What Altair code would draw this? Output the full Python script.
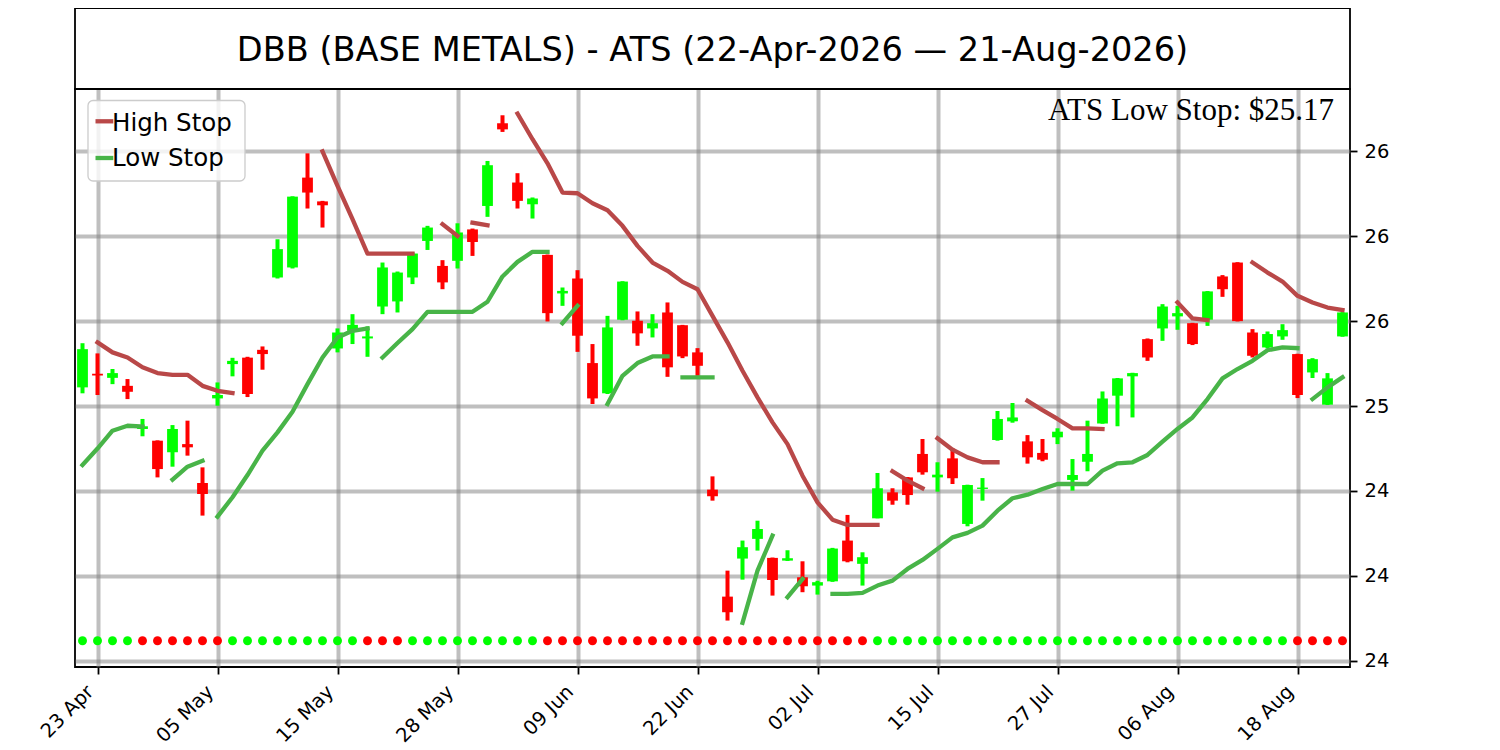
import altair as alt
import pandas as pd

TITLE = "DBB (BASE METALS) - ATS (22-Apr-2026 \u2014 21-Aug-2026)"
ATS_TEXT = "ATS Low Stop: $25.17"

# OHLC per trading day (index 0 = 22 Apr 2026 ... 84 = 21 Aug 2026)
opens = [25.110, 25.190, 25.166, 25.119, 24.865, 24.796, 24.728, 24.776, 24.547, 25.045,
         25.247, 25.285, 25.331, 25.757, 25.816, 26.345, 26.205, 25.339, 25.443, 25.398,
         25.586, 25.616, 25.757, 25.972, 25.825, 25.855, 26.040, 26.178, 26.665, 26.316,
         26.188, 25.890, 25.663, 25.751, 25.253, 25.075, 25.508, 25.502, 25.457, 25.551,
         25.476, 25.316, 24.508, 23.878, 24.102, 24.218, 24.106, 24.090, 23.992, 23.943,
         23.968, 24.208, 24.071, 24.339, 24.492, 24.580, 24.718, 24.580, 24.692, 24.306,
         24.512, 24.800, 24.910, 24.792, 24.724, 24.816, 24.565, 24.672, 24.898, 25.061,
         25.175, 25.394, 25.457, 25.528, 25.488, 25.508, 25.763, 25.845, 25.433, 25.345,
         25.410, 25.306, 25.198, 25.008, 25.410]
highs = [25.370, 25.310, 25.218, 25.159, 24.924, 24.798, 24.888, 24.914, 24.639, 25.139,
         25.284, 25.290, 25.351, 25.982, 26.235, 26.488, 26.208, 25.457, 25.541, 25.469,
         25.845, 25.792, 25.904, 26.061, 25.859, 26.076, 26.045, 26.443, 26.712, 26.371,
         26.228, 25.892, 25.698, 25.800, 25.365, 25.531, 25.735, 25.557, 25.541, 25.610,
         25.478, 25.341, 24.586, 24.031, 24.208, 24.325, 24.108, 24.151, 24.086, 23.971,
         24.165, 24.359, 24.139, 24.606, 24.516, 24.582, 24.806, 24.669, 24.751, 24.537,
         24.576, 24.971, 25.018, 24.829, 24.806, 24.869, 24.688, 24.914, 25.086, 25.165,
         25.196, 25.398, 25.600, 25.590, 25.490, 25.677, 25.771, 25.847, 25.453, 25.439,
         25.482, 25.308, 25.282, 25.194, 25.553]
lows = [25.075, 25.065, 25.129, 25.041, 24.822, 24.580, 24.643, 24.708, 24.355, 25.002,
        25.175, 25.053, 25.214, 25.751, 25.810, 26.163, 26.051, 25.316, 25.365, 25.290,
        25.541, 25.551, 25.718, 25.919, 25.688, 25.810, 25.884, 26.114, 26.614, 26.163,
        26.104, 25.498, 25.590, 25.319, 25.012, 25.071, 25.505, 25.355, 25.404, 25.172,
        25.282, 25.178, 24.443, 23.737, 23.978, 24.149, 23.884, 24.088, 23.904, 23.890,
        23.965, 24.080, 23.943, 24.339, 24.419, 24.419, 24.596, 24.496, 24.541, 24.292,
        24.443, 24.796, 24.902, 24.661, 24.675, 24.776, 24.502, 24.616, 24.896, 24.881,
        24.933, 25.266, 25.384, 25.449, 25.359, 25.472, 25.643, 25.498, 25.286, 25.339,
        25.390, 25.047, 25.165, 25.006, 25.408]
closes = [25.335, 25.180, 25.194, 25.084, 24.881, 24.629, 24.865, 24.757, 24.482, 25.065,
          25.266, 25.071, 25.306, 25.924, 26.233, 26.257, 26.182, 25.433, 25.478, 25.410,
          25.816, 25.786, 25.898, 26.051, 25.728, 26.022, 25.966, 26.418, 26.629, 26.208,
          26.222, 25.547, 25.678, 25.414, 25.045, 25.463, 25.733, 25.428, 25.488, 25.228,
          25.292, 25.237, 24.469, 23.786, 24.169, 24.276, 23.976, 24.104, 23.939, 23.963,
          24.161, 24.086, 24.110, 24.516, 24.443, 24.476, 24.610, 24.596, 24.575, 24.535,
          24.520, 24.924, 24.933, 24.698, 24.684, 24.849, 24.594, 24.718, 25.045, 25.163,
          25.194, 25.286, 25.586, 25.547, 25.365, 25.675, 25.688, 25.500, 25.296, 25.424,
          25.447, 25.065, 25.276, 25.163, 25.551]

# stop lines, as (first index, values) segments
high_stop_segments = [
    (1, [25.375, 25.316, 25.286, 25.228, 25.194, 25.184, 25.184, 25.119, 25.090, 25.076]),
    (16, [26.500, 26.296, 26.100, 25.898, 25.898, 25.898, 25.898]),
    (24, [26.071, 26.002]),
    (26, [26.080, 26.065]),
    (29, [26.722, 26.571, 26.429, 26.257, 26.253, 26.194, 26.153, 26.061, 25.943, 25.845,
          25.796, 25.731, 25.688, 25.531, 25.375, 25.208, 25.051, 24.904, 24.776, 24.590,
          24.433, 24.331, 24.300, 24.300, 24.300]),
    (54, [24.616, 24.561, 24.516]),
    (57, [24.810, 24.743, 24.698, 24.669, 24.669]),
    (63, [25.031, 24.976, 24.924, 24.869, 24.869, 24.865]),
    (73, [25.610, 25.516, 25.506]),
    (78, [25.845, 25.786, 25.733, 25.649, 25.610, 25.580, 25.565]),
]
low_stop_segments = [
    (0, [24.653, 24.750, 24.855, 24.884, 24.880]),
    (6, [24.567, 24.643, 24.678]),
    (9, [24.349, 24.463, 24.594, 24.737, 24.845, 24.967, 25.129, 25.286, 25.404, 25.443, 25.457]),
    (20, [25.286, 25.371, 25.453, 25.555, 25.555, 25.555, 25.555, 25.614, 25.763, 25.849,
          25.908, 25.908]),
    (32, [25.488, 25.590]),
    (35, [25.012, 25.178, 25.253, 25.292, 25.292]),
    (40, [25.169, 25.169, 25.169]),
    (44, [23.724, 24.031, 24.237]),
    (47, [23.875, 23.982]),
    (50, [23.894, 23.894, 23.900, 23.943, 23.972, 24.041, 24.094, 24.159, 24.227, 24.253,
          24.296, 24.384, 24.457, 24.478, 24.512, 24.541, 24.541, 24.541, 24.620, 24.663,
          24.669, 24.712, 24.790, 24.865, 24.933, 25.041, 25.163, 25.218, 25.266, 25.329,
          25.345, 25.341]),
    (82, [25.041, 25.110, 25.169]),
]
# trend dots: (state, run length)  1 = up (green), -1 = down (red)
trend_runs = [(1, 4), (-1, 6), (1, 9), (-1, 3), (1, 9), (-1, 22), (1, 28), (-1, 4)]

tick_positions = [1, 9, 17, 25, 33, 41, 49, 57, 65, 73, 81]
tick_labels = ["23 Apr", "05 May", "15 May", "28 May", "09 Jun", "22 Jun",
               "02 Jul", "15 Jul", "27 Jul", "06 Aug", "18 Aug"]
y_tick_values = [23.5, 24.0, 24.5, 25.0, 25.5, 26.0, 26.5]
y_tick_labels = ["24", "24", "24", "25", "26", "26", "26"]
legend_names = ["High Stop", "Low Stop"]

GREEN = "#00ff00"
RED = "#ff0000"
HIGH_COLOR = "#b94848"
LOW_COLOR = "#48b448"

W, H = 1275, 578
n = len(opens)

candles = pd.DataFrame({"i": list(range(n)), "o": opens, "h": highs, "l": lows, "c": closes})

rows = []
for k, (start, vals) in enumerate(high_stop_segments):
    for j, v in enumerate(vals):
        rows.append({"i": start + j, "v": v, "series": legend_names[0], "seg": f"H{k}"})
for k, (start, vals) in enumerate(low_stop_segments):
    for j, v in enumerate(vals):
        rows.append({"i": start + j, "v": v, "series": legend_names[1], "seg": f"L{k}"})
stops = pd.DataFrame(rows)

trend = []
for state, length in trend_runs:
    trend += [state] * length
dot_level = min(lows) * 0.995
dots = pd.DataFrame({"i": list(range(n)), "t": trend, "y": [dot_level] * n})

ymin = min(min(lows), dot_level)
ymax = max(highs)
pad = (ymax - ymin) * 0.05

x_expr = " : ".join(f"datum.value == {p} ? '{lab}'" for p, lab in zip(tick_positions, tick_labels)) + " : ''"
y_expr = " : ".join(f"abs(datum.value - {v}) < 0.001 ? '{lab}'" for v, lab in zip(y_tick_values, y_tick_labels)) + " : ''"

xscale = alt.Scale(domain=[-0.5, n - 0.5], nice=False, zero=False)
yscale = alt.Scale(domain=[ymin - pad, ymax + pad], nice=False, zero=False)
xaxis = alt.Axis(values=tick_positions, labelExpr=x_expr, title=None, labelAngle=315,
                 labelAlign="right", labelBaseline="top", labelPadding=8, labelOffset=-14,
                 labelOverlap=False, labelFlush=False)
yaxis = alt.Axis(values=y_tick_values, labelExpr=y_expr, title=None, orient="right",
                 labelPadding=7, labelOverlap=False, labelFlush=False)

up = alt.datum.c >= alt.datum.o
candle_color = alt.when(up).then(alt.value(GREEN)).otherwise(alt.value(RED))

wicks = alt.Chart(candles).mark_rule(strokeWidth=4).encode(
    x=alt.X("i:Q", scale=xscale, axis=xaxis),
    y=alt.Y("l:Q", scale=yscale, axis=yaxis),
    y2="h:Q",
    color=candle_color,
)
bodies = alt.Chart(candles).transform_calculate(
    x0="datum.i - 0.36", x1="datum.i + 0.36"
).mark_bar(opacity=1).encode(
    x=alt.X("x0:Q", scale=xscale, axis=xaxis),
    x2="x1:Q",
    y=alt.Y("o:Q", scale=yscale, axis=yaxis),
    y2="c:Q",
    color=candle_color,
)
lines = alt.Chart(stops).mark_line(strokeWidth=4.3, strokeCap="square", strokeJoin="round").encode(
    x=alt.X("i:Q", scale=xscale, axis=xaxis),
    y=alt.Y("v:Q", scale=yscale, axis=yaxis),
    detail="seg:N",
    order="i:Q",
    color=alt.Color(
        "series:N",
        scale=alt.Scale(domain=legend_names, range=[HIGH_COLOR, LOW_COLOR]),
        legend=None,
    ),
)
dot_layer = alt.Chart(dots).mark_circle(size=80, opacity=1).encode(
    x=alt.X("i:Q", scale=xscale, axis=xaxis),
    y=alt.Y("y:Q", scale=yscale, axis=yaxis),
    color=alt.when(alt.datum.t > 0).then(alt.value(GREEN)).otherwise(alt.value(RED)),
)

# title box above the plot
title_df = pd.DataFrame({"t": [TITLE]})
title_box = alt.Chart(title_df).mark_rect(fill="white", stroke="black", strokeWidth=1.8).encode(
    x=alt.value(0), x2=alt.value(W), y=alt.value(-81), y2=alt.value(0)
)
title_text = alt.Chart(title_df).mark_text(
    font="DejaVu Sans", fontSize=33.6, align="center", baseline="alphabetic", color="black"
).encode(x=alt.value(W / 2), y=alt.value(-28), text="t:N")

ats_df = pd.DataFrame({"t": [ATS_TEXT]})
ats_text = alt.Chart(ats_df).mark_text(
    font="Liberation Serif", fontSize=31, align="right", baseline="alphabetic", color="black"
).encode(x=alt.value(1259), y=alt.value(31), text="t:N")

# legend (drawn as a framed box with line samples)
legend_df = pd.DataFrame({"name": legend_names})
legend_box = alt.Chart(legend_df).transform_filter(alt.datum.name == legend_names[0]).mark_rect(
    fill="white", fillOpacity=0.8, stroke="#cccccc", strokeWidth=1.3, cornerRadius=5
).encode(x=alt.value(13), x2=alt.value(170), y=alt.value(11.5), y2=alt.value(92))
legend_layers = [legend_box]
for name, color, yc, yb in [(legend_names[0], HIGH_COLOR, 32.3, 41.7),
                            (legend_names[1], LOW_COLOR, 69.0, 77.3)]:
    sub = alt.Chart(legend_df).transform_filter(alt.datum.name == name)
    legend_layers.append(sub.mark_rule(strokeWidth=4.3, color=color).encode(
        x=alt.value(20.5), x2=alt.value(38.3), y=alt.value(yc)))
    legend_layers.append(sub.mark_text(
        font="DejaVu Sans", fontSize=24.5, align="left", baseline="alphabetic", color="black"
    ).encode(x=alt.value(37), y=alt.value(yb), text="name:N"))

chart = alt.layer(title_box, title_text, wicks, bodies, lines, dot_layer, ats_text,
                  *legend_layers).properties(
    width=W, height=H,
    autosize=alt.AutoSizeParams(type="none"),
    padding={"left": 67, "top": 81, "right": 75, "bottom": 83},
    background="white",
).configure_view(
    stroke="black", strokeWidth=1.8
).configure_axis(
    grid=True, gridColor="gray", gridOpacity=0.5, gridWidth=4,
    domain=False, ticks=True, tickColor="black", tickSize=7, tickWidth=1.8,
    labelFont="DejaVu Sans", labelFontSize=19.5, labelColor="black",
)

chart.save("out.html", embed_options={"renderer": "svg", "actions": False})
